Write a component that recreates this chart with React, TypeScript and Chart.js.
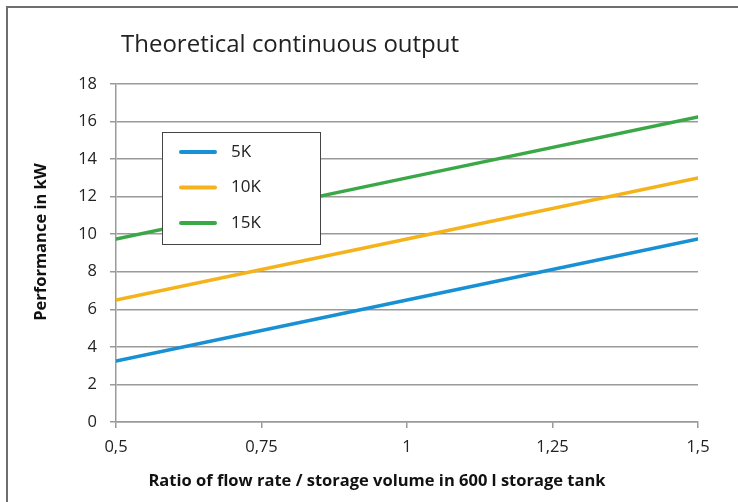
import React, { useEffect, useRef } from "react";
import { Chart, registerables } from "chart.js";

Chart.register(...registerables);

const chartTitle = "Theoretical continuous output";
const xAxisTitle = "Ratio of flow rate / storage volume in 600 l storage tank";
const yAxisTitle = "Performance in kW";

const xValues = [0.5, 1, 1.5];
const seriesNames = ["5K", "10K", "15K"];
const series5K = [3.25, 6.5, 9.75];
const series10K = [6.5, 9.75, 13];
const series15K = [9.75, 13, 16.25];
const seriesColors = ["#1790d4", "#f5b31b", "#3aa846"];

const xTickValues = [0.5, 0.75, 1, 1.25, 1.5];
const xTickLabels = ["0,5", "0,75", "1", "1,25", "1,5"];
const yTickValues = [0, 2, 4, 6, 8, 10, 12, 14, 16, 18];

const FONT = "'Open Sans', 'Noto Sans', sans-serif";

export default function App() {
  const ref = useRef<HTMLCanvasElement>(null);

  useEffect(() => {
    document.body.style.margin = "0";
    const canvas = ref.current;
    if (!canvas) return;
    const allSeries = [series5K, series10K, series15K];

    const framePlugin = {
      id: "frame",
      beforeDraw(chart: any) {
        const { ctx, width, height } = chart;
        ctx.save();
        ctx.fillStyle = "#ffffff";
        ctx.fillRect(0, 0, width, height);
        ctx.strokeStyle = "#6e6e6e";
        ctx.lineWidth = 2;
        ctx.strokeRect(7, 7, width + 50, height + 50);
        ctx.restore();
      },
    };

    const titlesPlugin = {
      id: "customTitles",
      afterDraw(chart: any) {
        const { ctx } = chart;
        ctx.save();
        ctx.font = `24px ${FONT}`;
        ctx.fillStyle = "#222222";
        ctx.textAlign = "left";
        ctx.textBaseline = "middle";
        ctx.fillText(chartTitle, 121, 45);

        ctx.font = `bold 16.5px ${FONT}`;
        ctx.fillStyle = "#111111";
        ctx.textAlign = "center";
        ctx.fillText(xAxisTitle, 377, 481);

        ctx.translate(41, 242);
        ctx.rotate(-Math.PI / 2);
        ctx.fillText(yAxisTitle, 0, 0);
        ctx.restore();
      },
    };

    const legendPlugin = {
      id: "boxLegend",
      afterDraw(chart: any) {
        const { ctx } = chart;
        const left = 162, top = 132, w = 158, h = 112;
        ctx.save();
        ctx.fillStyle = "#ffffff";
        ctx.fillRect(left, top, w, h);
        ctx.strokeStyle = "#444444";
        ctx.lineWidth = 1;
        ctx.strokeRect(left + 0.5, top + 0.5, w, h);
        chart.data.datasets.forEach((ds: any, i: number) => {
          const y = top + 20 + i * 35.5;
          ctx.strokeStyle = ds.borderColor;
          ctx.lineWidth = 4;
          ctx.lineCap = "round";
          ctx.beginPath();
          ctx.moveTo(181, y);
          ctx.lineTo(215, y);
          ctx.stroke();
          ctx.fillStyle = "#222222";
          ctx.font = `17px ${FONT}`;
          ctx.textAlign = "left";
          ctx.textBaseline = "middle";
          ctx.fillText(ds.label, 231, y);
        });
        ctx.restore();
      },
    };

    const chart = new Chart(canvas, {
      type: "line",
      data: {
        datasets: seriesNames.map((name, i) => ({
          label: name,
          data: xValues.map((x, j) => ({ x, y: allSeries[i][j] })),
          borderColor: seriesColors[i],
          backgroundColor: seriesColors[i],
          borderWidth: 3.5,
          pointRadius: 0,
          borderCapStyle: "round",
          tension: 0,
        })),
      },
      options: {
        responsive: false,
        animation: false,
        layout: { padding: { top: 84, right: 40, left: 0, bottom: 0 } },
        plugins: {
          legend: { display: false },
          title: { display: false },
          tooltip: { enabled: false },
        },
        scales: {
          x: {
            type: "linear",
            min: 0.5,
            max: 1.5,
            afterBuildTicks: (scale: any) => {
              scale.ticks = xTickValues.map((v) => ({ value: v }));
            },
            afterFit: (scale: any) => {
              scale.height = 80;
            },
            ticks: {
              callback: (v: any) => {
                const idx = xTickValues.indexOf(Number(v));
                return idx >= 0 ? xTickLabels[idx] : "";
              },
              font: { family: FONT, size: 16.5 },
              color: "#222222",
              padding: 9,
              maxRotation: 0,
            },
            grid: {
              drawOnChartArea: false,
              drawTicks: true,
              tickLength: 6,
              color: "#9a9a9a",
              lineWidth: 1.5,
            },
            border: { color: "#9a9a9a", width: 1.5 },
            title: { display: false },
          },
          y: {
            type: "linear",
            min: 0,
            max: 18,
            afterBuildTicks: (scale: any) => {
              scale.ticks = yTickValues.map((v) => ({ value: v }));
            },
            afterFit: (scale: any) => {
              scale.width = 116;
            },
            ticks: {
              font: { family: FONT, size: 16.5 },
              color: "#222222",
              padding: 13,
            },
            grid: {
              drawOnChartArea: true,
              drawTicks: true,
              tickLength: 6,
              color: "#9a9a9a",
              lineWidth: 1.5,
            },
            border: { color: "#9a9a9a", width: 1.5 },
            title: { display: false },
          },
        },
      },
      plugins: [framePlugin, titlesPlugin, legendPlugin],
    } as any);

    return () => chart.destroy();
  }, []);

  return <canvas ref={ref} width={738} height={502} style={{ display: "block" }} />;
}
